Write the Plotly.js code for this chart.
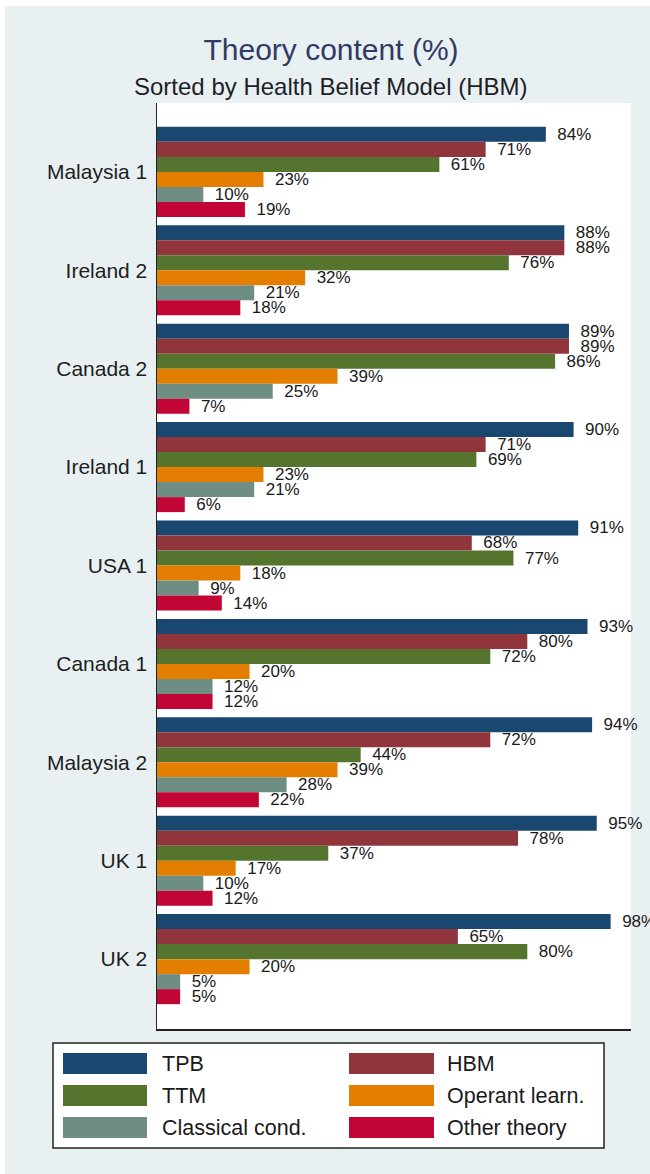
<!DOCTYPE html>
<html>
<head>
<meta charset="utf-8">
<script src="https://cdn.plot.ly/plotly-3.0.1.min.js"></script>
<style>
  html, body { margin:0; padding:0; background:#ffffff; width:650px; height:1174px; overflow:hidden; }
  #chart { position:absolute; left:5px; top:6px; width:645px; height:1168px; }
</style>
</head>
<body>
<div id="chart"></div>
<script>
// ---- data ----
const countries = ['Malaysia 1','Ireland 2','Canada 2','Ireland 1','USA 1','Canada 1','Malaysia 2','UK 1','UK 2'];
const seriesNames = ['TPB','HBM','TTM','Operant learn.','Classical cond.','Other theory'];
const seriesColors = ['#1a476f','#90353b','#55752f','#e37e00','#6e8e84','#c10534'];
const tpb       = [84, 88, 89, 90, 91, 93, 94, 95, 98];
const hbm       = [71, 88, 89, 71, 68, 80, 72, 78, 65];
const ttm       = [61, 76, 86, 69, 77, 72, 44, 37, 80];
const operant   = [23, 32, 39, 23, 18, 20, 39, 17, 20];
const classical = [10, 21, 25, 21,  9, 12, 28, 10,  5];
const other     = [19, 18,  7,  6, 14, 12, 22, 12,  5];
const seriesValues = [tpb, hbm, ttm, operant, classical, other];

const FONT = '"Liberation Sans", Arial, sans-serif';

// ---- geometry helpers (image pixel -> paper coords) ----
const DIV_L = 5, DIV_T = 6;
const M = {l:152, r:19, t:97, b:145};
const PW = 645 - M.l - M.r, PH = 1168 - M.t - M.b;
const px = ax => (ax - DIV_L - M.l) / PW;
const py = ay => 1 - (ay - DIV_T - M.t) / PH;

const traces = seriesValues.map((vals, i) => ({
  type: 'bar',
  orientation: 'h',
  y: countries,
  x: vals,
  name: seriesNames[i],
  marker: { color: seriesColors[i], line: { width: 0 } },
  texttemplate: '\u2002%{x}%',
  textposition: 'outside',
  constraintext: 'none',
  cliponaxis: false,
  textfont: { family: FONT, size: 17, color: '#1a1a1a' },
  hoverinfo: 'skip',
  showlegend: false
}));

// ---- manual legend ----
const shapes = [{
  type: 'rect', xref: 'paper', yref: 'paper',
  x0: px(53), x1: px(604), y0: py(1148), y1: py(1043),
  line: { color: '#222222', width: 1.5 }, fillcolor: '#ffffff', layer: 'above'
}];
const annotations = [];
const colSwatch = [[63, 147], [349, 434]];
const colText = [160, 445];
const rowTop = [1053, 1085, 1117];
const SW_H = 21;
seriesNames.forEach((name, i) => {
  const r = Math.floor(i / 2), c = i % 2;
  shapes.push({
    type: 'rect', xref: 'paper', yref: 'paper',
    x0: px(colSwatch[c][0]), x1: px(colSwatch[c][1]),
    y0: py(rowTop[r] + SW_H), y1: py(rowTop[r]),
    line: { width: 0 }, fillcolor: seriesColors[i], layer: 'above'
  });
  annotations.push({
    xref: 'paper', yref: 'paper', x: px(colText[c]), y: py(rowTop[r] + SW_H / 2),
    xanchor: 'left', yanchor: 'middle', showarrow: false, text: name,
    font: { family: FONT, size: 21.5, color: '#1a1a1a' }
  });
});

// subtitle
annotations.push({
  xref: 'paper', yref: 'paper', x: px(331), y: py(86),
  xanchor: 'center', yanchor: 'middle', showarrow: false,
  text: 'Sorted by Health Belief Model (HBM)',
  font: { family: FONT, size: 24, color: '#1e1e28' }
});

const layout = {
  width: 645, height: 1168,
  margin: M,
  paper_bgcolor: '#e8f0f2',
  plot_bgcolor: '#ffffff',
  barmode: 'group',
  bargap: 0.085,
  bargroupgap: 0,
  showlegend: false,
  title: {
    text: 'Theory content (%)',
    font: { family: FONT, size: 30, color: '#313a66' },
    xref: 'container', yref: 'container',
    x: (331 - DIV_L) / 645, y: 1 - (49 - DIV_T) / 1168,
    xanchor: 'center', yanchor: 'middle'
  },
  xaxis: {
    range: [0, 102.4],
    showticklabels: false, ticks: '', showgrid: false, zeroline: false,
    showline: true, linecolor: '#222222', linewidth: 1.5
  },
  yaxis: {
    type: 'category', categoryorder: 'array', categoryarray: countries,
    range: [8.71, -0.70],
    ticks: '', ticklabelstandoff: 4, showgrid: false, zeroline: false,
    showline: true, linecolor: '#222222', linewidth: 1.5,
    tickfont: { family: FONT, size: 21, color: '#1e1e1e' }
  },
  shapes: shapes,
  annotations: annotations
};

Plotly.newPlot('chart', traces, layout, { displayModeBar: false, staticPlot: true });
</script>
</body>
</html>
